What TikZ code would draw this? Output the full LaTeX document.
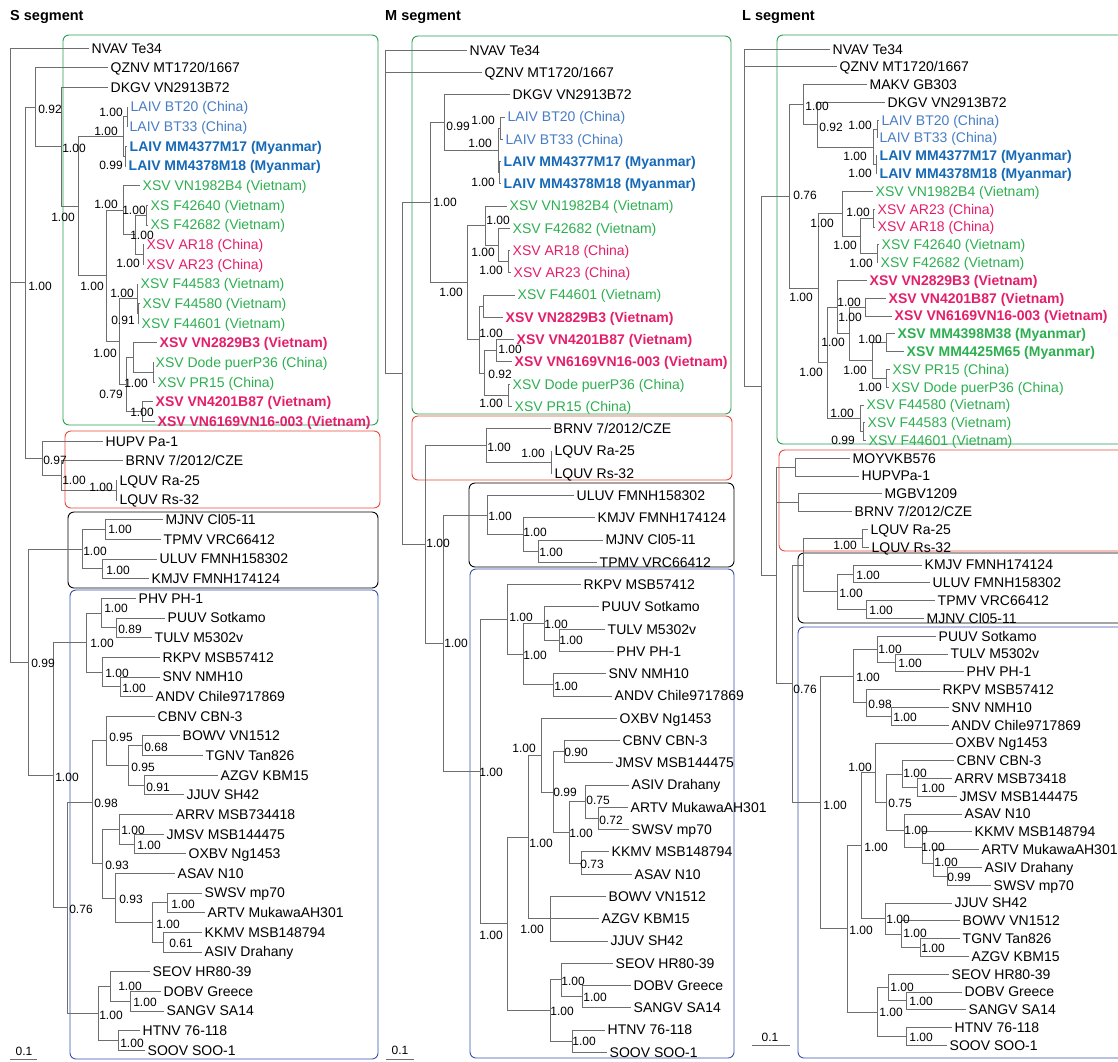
\documentclass[tikz,border=0pt]{standalone}
\usepackage{fontspec}
\setmainfont{Liberation Sans}

\definecolor{laivcn}{RGB}{72,125,195}
\definecolor{laivmm}{RGB}{22,105,182}
\definecolor{xsvgreen}{RGB}{45,175,80}
\definecolor{xsvpink}{RGB}{228,30,105}
\definecolor{boxgreen}{RGB}{40,160,80}
\definecolor{boxred}{RGB}{232,72,60}
\definecolor{boxblue}{RGB}{55,80,170}
\definecolor{branchgray}{RGB}{110,110,110}

\tikzset{
  leaf/.style={
    anchor = west,
    inner xsep = 2.5pt,
    inner ysep = 0pt,
    text height = 10pt,
    text depth = 0pt,
    font = \fontsize{14}{16}\selectfont
  },
  laiv/.style={leaf, text = laivcn},
  laivb/.style={leaf, text = laivmm, font = \bfseries\fontsize{14}{16}\selectfont},
  xsv/.style={leaf, text = xsvgreen},
  xsvb/.style={leaf, text = xsvgreen, font = \bfseries\fontsize{14}{16}\selectfont},
  xsvr/.style={leaf, text = xsvpink},
  xsvrb/.style={leaf, text = xsvpink, font = \bfseries\fontsize{14}{16}\selectfont},
}
\tikzset{
  branch/.style={
    draw = branchgray,
    line width = 0.6pt
  },
  bs/.style={
    inner sep = 0pt,
    font = \fontsize{12}{14}\selectfont
  },
  segtitle/.style={
    anchor = west,
    inner sep = 0pt,
    font = \bfseries\fontsize{14.5}{17}\selectfont
  },
  clade/.style={
    rounded corners = 6pt,
    line width = 0.9pt
  },
  grbox/.style={clade, draw = boxgreen},
  rdbox/.style={clade, draw = boxred},
  bkbox/.style={clade, draw = black},
  blbox/.style={clade, draw = boxblue},
  scalebar/.style={draw = branchgray, line width = 0.6pt}
}

\begin{document}
\begin{tikzpicture}[x=1pt,y=-1pt]
    \def\sy{48}
    \def\sdy{19.65}
    \def\my{50}
    \def\mdy{22.27}
    \def\ly{49}
    \def\ldy{17.79}
    \useasboundingbox (0,0) rectangle (1118,1061);
    \clip (0,0) rectangle (1118,1061);

    % clade boxes
    \draw[grbox] (63,35) rectangle (378,425);
    \draw[rdbox] (65,431) rectangle (380,508);
    \draw[bkbox] (68,512) rectangle (378,588);
    \draw[blbox] (70,590) rectangle (378,1059);
    \draw[grbox] (412,36) rectangle (731,414);
    \draw[rdbox] (412,416) rectangle (732,480);
    \draw[bkbox] (469,483) rectangle (734,567);
    \draw[blbox] (470,569) rectangle (734,1058);
    \draw[grbox] (777,35) rectangle (1140,444);
    \draw[rdbox] (779,450) rectangle (1140,551);
    \draw[bkbox] (798,553) rectangle (1140,623);
    \draw[blbox] (798,627) rectangle (1140,1058);

    \node[segtitle] (stitle) at (10,17) {S segment};
    \node[segtitle] (mtitle) at (385,17) {M segment};
    \node[segtitle] (ltitle) at (742,17) {L segment};

    % S segment
    \foreach \n/\px/\rw/\st/\txt in {
        sNV/89/0/leaf/{NVAV Te34}, sQZ/108/1/leaf/{QZNV MT1720/1667}, sDK/108/2/leaf/{DKGV VN2913B72},
        sBT20/128/3/laiv/{LAIV BT20 (China)}, sBT33/127/4/laiv/{LAIV BT33 (China)},
        sM17/127/5/laivb/{LAIV MM4377M17 (Myanmar)}, sM18/126/6/laivb/{LAIV MM4378M18 (Myanmar)},
        sVN19/140/7/xsv/{XSV VN1982B4 (Vietnam)}, sF40/148/8/xsv/{XS F42640 (Vietnam)}, sF82/148/9/xsv/{XS F42682 (Vietnam)},
        sA18/144/10/xsvr/{XSV AR18 (China)}, sA23/144/11/xsvr/{XSV AR23 (China)},
        sF83/138/12/xsv/{XSV F44583 (Vietnam)}, sF80/140/13/xsv/{XSV F44580 (Vietnam)}, sF01/139/14/xsv/{XSV F44601 (Vietnam)},
        sV28/157/15/xsvrb/{XSV VN2829B3 (Vietnam)}, sDO/153/16/xsv/{XSV Dode puerP36 (China)}, sPR/155/17/xsv/{XSV PR15 (China)},
        sV42/153/18/xsvrb/{XSV VN4201B87 (Vietnam)}, sV61/155/19/xsvrb/{XSV VN6169VN16-003 (Vietnam)},
        sHU/103/20/leaf/{HUPV Pa-1}, sBR/123/21/leaf/{BRNV 7/2012/CZE}, sLR/117/22/leaf/{LQUV Ra-25}, sLS/117/23/leaf/{LQUV Rs-32},
        sMJ/163/24/leaf/{MJNV Cl05-11}, sTP/161/25/leaf/{TPMV VRC66412}, sUL/157/26/leaf/{ULUV FMNH158302}, sKM/149/27/leaf/{KMJV FMNH174124},
        sPH/136/28/leaf/{PHV PH-1}, sPU/165/29/leaf/{PUUV Sotkamo}, sTU/152/30/leaf/{TULV M5302v},
        sRK/160/31/leaf/{RKPV MSB57412}, sSN/160/32/leaf/{SNV NMH10}, sAN/153/33/leaf/{ANDV Chile9717869},
        sCB/155/34/leaf/{CBNV CBN-3}, sBO/180/35/leaf/{BOWV VN1512}, sTG/203/36/leaf/{TGNV Tan826}, sAZ/218/37/leaf/{AZGV KBM15}, sJJ/184/38/leaf/{JJUV SH42},
        sAR/173/39/leaf/{ARRV MSB734418}, sJM/164/40/leaf/{JMSV MSB144475}, sOX/186/41/leaf/{OXBV Ng1453},
        sAS/175/42/leaf/{ASAV N10}, sSW/202/43/leaf/{SWSV mp70}, sAT/205/44/leaf/{ARTV MukawaAH301}, sKK/202/45/leaf/{KKMV MSB148794}, sAI/202/46/leaf/{ASIV Drahany},
        sSE/150/47/leaf/{SEOV HR80-39}, sDB/161/48/leaf/{DOBV Greece}, sSG/164/49/leaf/{SANGV SA14}, sHT/140/50/leaf/{HTNV 76-118}, sSO/145/51/leaf/{SOOV SOO-1}}{
        \node[\st] (\n) at (\px,{\sy+\sdy*\rw}) {\txt};
    }
    \foreach \n/\px/\rw in {
        sxR/10/0, sxA/25/11.94, sxQZ/35/3.01, sxDK/61/5.02, sxLX/78/8.05, sxLA/123/4.5, sxBT/127/3.5, sxMM/125/5.5,
        sxXS/106/11.59, sxX1/123/8.25, sxX2/135/9.5, sxF4/146/8.5, sxAR/143/10.5, sxX3/119/14.94, sxF44/137/12.75, sxF4b/138/13.5,
        sxX4/126/17.13, sxV28/133/15.75, sxDP/153/16.5, sxV42/142/18.5, sxHU/42/20.88, sxBR/61/21.75, sxLQ/116/22.5,
        sxC/28/31.25, sxBK/82/25.5, sxMT/105/24.5, sxUK/102/26.5, sxBL/53/37, sxPU/86/30.25, sxPH/101/28.75, sxPT/116/29.5,
        sxRK/102/31.75, sxSA/120/32.5, sxOS/67/43.75, sxOW/92/38.38, sxCB/106/35.25, sxBT2/128/36.5, sxBO/142/35.5, sxAZ/144/37.5,
        sxAA/102/41.5, sxAR2/119/39.75, sxJO/134/40.5, sxAS/115/43.25, sxSK/152/44.5, sxSW/167/43.5, sxKK/163/45.5,
        sxSH/98/49.13, sxSE/110/47.75, sxDS/130/48.5, sxHT/118/50.5}{
        \coordinate (\n) at (\px,{\sy+\sdy*\rw});
    }
    \foreach \p/\c in {
        sxR/sNV, sxR/sxA, sxR/sxC, sxA/sxQZ, sxA/sxHU, sxQZ/sQZ, sxQZ/sxDK, sxDK/sDK, sxDK/sxLX,
        sxLX/sxLA, sxLX/sxXS, sxLA/sxBT, sxLA/sxMM, sxBT/sBT20, sxBT/sBT33, sxMM/sM17, sxMM/sM18,
        sxXS/sxX1, sxXS/sxX3, sxX1/sVN19, sxX1/sxX2, sxX2/sxF4, sxX2/sxAR, sxF4/sF40, sxF4/sF82, sxAR/sA18, sxAR/sA23,
        sxX3/sxF44, sxX3/sxX4, sxF44/sF83, sxF44/sxF4b, sxF4b/sF80, sxF4b/sF01,
        sxX4/sxV28, sxX4/sxV42, sxV28/sV28, sxV28/sxDP, sxDP/sDO, sxDP/sPR, sxV42/sV42, sxV42/sV61,
        sxHU/sHU, sxHU/sxBR, sxBR/sBR, sxBR/sxLQ, sxLQ/sLR, sxLQ/sLS,
        sxC/sxBK, sxC/sxBL, sxBK/sxMT, sxBK/sxUK, sxMT/sMJ, sxMT/sTP, sxUK/sUL, sxUK/sKM,
        sxBL/sxPU, sxBL/sxOS, sxPU/sxPH, sxPU/sxRK, sxPH/sPH, sxPH/sxPT, sxPT/sPU, sxPT/sTU,
        sxRK/sRK, sxRK/sxSA, sxSA/sSN, sxSA/sAN, sxOS/sxOW, sxOS/sxSH, sxOW/sxCB, sxOW/sxAA,
        sxCB/sCB, sxCB/sxBT2, sxBT2/sxBO, sxBT2/sxAZ, sxBO/sBO, sxBO/sTG, sxAZ/sAZ, sxAZ/sJJ,
        sxAA/sxAR2, sxAA/sxAS, sxAR2/sAR, sxAR2/sxJO, sxJO/sJM, sxJO/sOX, sxAS/sAS, sxAS/sxSK,
        sxSK/sxSW, sxSK/sxKK, sxSW/sSW, sxSW/sAT, sxKK/sKK, sxKK/sAI,
        sxSH/sxSE, sxSH/sxHT, sxSE/sSE, sxSE/sxDS, sxDS/sDB, sxDS/sSG, sxHT/sHT, sxHT/sSO}{
        \draw[branch] (\p) |- (\c);
    }
    \foreach \n/\bx/\by/\v in {
        sbQZ/50/109/0.92, sbDK/74/148/1.00, sbLX/63/217/1.00, sbBT/111/112/1.00, sbLA/106/131/1.00, sbMM/111/165/0.99,
        sbX1/106/204/1.00, sbF4/134/210/1.00, sbX2/142/235/1.00, sbAR/128/263/1.00, sbXS/92/286/1.00, sbF44/122/293/1.00,
        sbF4b/123/320/0.91, sbX3/105/353/1.00, sbDP/136/383/1.00, sbX4/111/394/0.79, sbV42/142/412/1.00, sbA/40/286/1.00,
        sbHU/55/460/0.97, sbBR/74/480/1.00, sbLQ/101/487/1.00, sbMT/120/529/1.00, sbBK/95/551/1.00, sbUK/118/570/1.00,
        sbC/43/663/0.99, sbPH/116/608/1.00, sbPT/130/629/0.89, sbPU/102/643/1.00, sbRK/117/673/1.00, sbSA/134/688/1.00,
        sbCB/121/737/0.95, sbBO/156/747/0.68, sbBT2/143/767/0.95, sbBL/67/777/1.00, sbAZ/158/787/0.91, sbOW/106/803/0.98,
        sbAR2/133/830/1.00, sbJO/149/845/1.00, sbAA/117/865/0.93, sbAS/131/899/0.93, sbSW/183/904/1.00, sbSK/168/924/1.00,
        sbKK/181/943/0.61, sbOS/81/909/0.76, sbSE/130/986/1.00, sbDS/145/1002/1.00, sbSH/111/1015/1.00, sbHT/132/1043/1.00}{
        \node[bs] (\n) at (\bx,\by) {\v};
    }
    \coordinate (ssa) at (10,1059.5);
    \coordinate (ssb) at (37,1059.5);
    \draw[scalebar] (ssa) -- (ssb);
    \node[bs] (ssl) at (24,1051) {0.1};

    % M segment
    \foreach \n/\px/\rw/\st/\txt in {
        mNV/467/0/leaf/{NVAV Te34}, mQZ/482/1/leaf/{QZNV MT1720/1667}, mDK/510/2/leaf/{DKGV VN2913B72},
        mBT20/505/3/laiv/{LAIV BT20 (China)}, mBT33/503/4/laiv/{LAIV BT33 (China)},
        mM17/501/5/laivb/{LAIV MM4377M17 (Myanmar)}, mM18/501/6/laivb/{LAIV MM4378M18 (Myanmar)},
        mVN19/507/7/xsv/{XSV VN1982B4 (Vietnam)}, mF82/510/8/xsv/{XSV F42682 (Vietnam)},
        mA18/510/9/xsvr/{XSV AR18 (China)}, mA23/511/10/xsvr/{XSV AR23 (China)},
        mF01/515/11/xsv/{XSV F44601 (Vietnam)}, mV28/503/12/xsvrb/{XSV VN2829B3 (Vietnam)},
        mV42/514/13/xsvrb/{XSV VN4201B87 (Vietnam)}, mV61/512/14/xsvrb/{XSV VN6169VN16-003 (Vietnam)},
        mDO/510/15/xsv/{XSV Dode puerP36 (China)}, mPR/512/16/xsv/{XSV PR15 (China)},
        mBR/551/17/leaf/{BRNV 7/2012/CZE}, mLR/552/18/leaf/{LQUV Ra-25}, mLS/552/19/leaf/{LQUV Rs-32},
        mUL/574/20/leaf/{ULUV FMNH158302}, mKM/595/21/leaf/{KMJV FMNH174124}, mMJ/603/22/leaf/{MJNV Cl05-11}, mTP/597/23/leaf/{TPMV VRC66412},
        mRK/581/24/leaf/{RKPV MSB57412}, mPU/599/25/leaf/{PUUV Sotkamo}, mTU/605/26/leaf/{TULV M5302v}, mPH/614/27/leaf/{PHV PH-1},
        mSN/606/28/leaf/{SNV NMH10}, mAN/612/29/leaf/{ANDV Chile9717869}, mOX/617/30/leaf/{OXBV Ng1453},
        mCB/620/31/leaf/{CBNV CBN-3}, mJM/613/32/leaf/{JMSV MSB144475}, mAI/629/33/leaf/{ASIV Drahany},
        mAT/628/34/leaf/{ARTV MukawaAH301}, mSW/629/35/leaf/{SWSV mp70}, mKK/609/36/leaf/{KKMV MSB148794}, mAS/632/37/leaf/{ASAV N10},
        mBO/606/38/leaf/{BOWV VN1512}, mAZ/599/39/leaf/{AZGV KBM15}, mJJ/608/40/leaf/{JJUV SH42},
        mSE/613/41/leaf/{SEOV HR80-39}, mDB/631/42/leaf/{DOBV Greece}, mSG/631/43/leaf/{SANGV SA14},
        mHT/605/44/leaf/{HTNV 76-118}, mSO/607/45/leaf/{SOOV SOO-1}}{
        \node[\st] (\n) at (\px,{\my+\mdy*\rw}) {\txt};
    }
    \foreach \n/\px/\rw in {
        mxR/385/0, mxIN/402/14.52, mxGR/430/6.84, mxDK/444/3.25, mxLA/498/4.5, mxBT/500/3.5, mxMM/499/5.5,
        mxXS/467/10.44, mxVN/485/7.88, mxFA/498/8.75, mxAR/508/9.5, mxX3/479/13, mxF6/483/11.5, mxV4D/484/14.5,
        mxV4/496/13.5, mxDP/508/15.5, mxRB/425/22.19, mxRD/486/17.75, mxLQ/551/18.5, mxBB/443/26.63,
        mxBK/487/20.88, mxKM/523/21.75, mxMT/538/22.5, mxBL/480/32.39, mxRK/507/25.56, mxPS/523/27.13,
        mxPU/544/25.75, mxTP/559/26.5, mxSA/553/28.5, mxOS/507/39.23, mxOB/528/35.33, mxOX/541/31.66,
        mxCA/553/33.31, mxCJ/564/31.5, mxAK/569/35.13, mxAI/585/33.75, mxAS/598/34.5, mxKA/581/36.5,
        mxBJ/550/39, mxSH/550/43.13, mxSE/561/41.75, mxDS/582/42.5, mxHT/572/44.5}{
        \coordinate (\n) at (\px,{\my+\mdy*\rw});
    }
    \foreach \p/\c in {
        mxR/mNV, mxR/mQZ, mxR/mxIN, mxIN/mxGR, mxIN/mxRB, mxGR/mxDK, mxGR/mxXS, mxDK/mDK, mxDK/mxLA,
        mxLA/mxBT, mxLA/mxMM, mxBT/mBT20, mxBT/mBT33, mxMM/mM17, mxMM/mM18,
        mxXS/mxVN, mxXS/mxX3, mxVN/mVN19, mxVN/mxFA, mxFA/mF82, mxFA/mxAR, mxAR/mA18, mxAR/mA23,
        mxX3/mxF6, mxX3/mxV4D, mxF6/mF01, mxF6/mV28, mxV4D/mxV4, mxV4D/mxDP, mxV4/mV42, mxV4/mV61, mxDP/mDO, mxDP/mPR,
        mxRB/mxRD, mxRB/mxBB, mxRD/mBR, mxRD/mxLQ, mxLQ/mLR, mxLQ/mLS,
        mxBB/mxBK, mxBB/mxBL, mxBK/mUL, mxBK/mxKM, mxKM/mKM, mxKM/mxMT, mxMT/mMJ, mxMT/mTP,
        mxBL/mxRK, mxBL/mxOS, mxRK/mRK, mxRK/mxPS, mxPS/mxPU, mxPS/mxSA, mxPU/mPU, mxPU/mxTP,
        mxTP/mTU, mxTP/mPH, mxSA/mSN, mxSA/mAN, mxOS/mxOB, mxOS/mxSH, mxOB/mxOX, mxOB/mxBJ,
        mxOX/mOX, mxOX/mxCA, mxCA/mxCJ, mxCA/mxAK, mxCJ/mCB, mxCJ/mJM,
        mxAK/mxAI, mxAK/mxKA, mxAI/mAI, mxAI/mxAS, mxAS/mAT, mxAS/mSW, mxKA/mKK, mxKA/mAS,
        mxBJ/mBO, mxBJ/mAZ, mxBJ/mJJ, mxSH/mxSE, mxSH/mxHT, mxSE/mSE, mxSE/mxDS, mxDS/mDB, mxDS/mSG, mxHT/mHT, mxHT/mSO}{
        \draw[branch] (\p) |- (\c);
    }
    \foreach \n/\bx/\by/\v in {
        mbDK/458/126/0.99, mbBT/483/120/1.00, mbLA/480/143/1.00, mbMM/483/182/1.00, mbGR/445/202/1.00, mbVN/498/220/1.00,
        mbFA/483/252/1.00, mbAR/491/270/1.00, mbXS/451/292/1.00, mbX3/491/333/1.00, mbV4/510/349/1.00, mbV4D/500/374/0.92,
        mbDP/491/403/1.00, mbRD/499/447/1.00, mbLQ/533/453/1.00, mbBK/500/516/1.00, mbKM/535/532/1.00, mbRB/438/543/1.00,
        mbMT/551/552/1.00, mbRK/521/617/1.00, mbPU/556/624/1.00, mbTP/571/640/1.00, mbBB/456/643/1.00, mbPS/535/655/1.00,
        mbSA/566/686/1.00, mbOX/524/748/1.00, mbCJ/576/752/0.90, mbBL/491/772/1.00, mbCA/565/792/0.99, mbAI/598/800/0.75,
        mbAS/611/820/0.72, mbAK/581/833/1.00, mbOB/541/843/1.00, mbKA/592/864/0.73, mbBJ/532/929/1.00, mbOS/491/935/1.00,
        mbSE/573/981/1.00, mbDS/595/997/1.00, mbSH/562/1011/1.00, mbHT/584/1041/1.00}{
        \node[bs] (\n) at (\bx,\by) {\v};
    }
    \coordinate (msa) at (386,1059.5);
    \coordinate (msb) at (414,1059.5);
    \draw[scalebar] (msa) -- (msb);
    \node[bs] (msl) at (400,1050) {0.1};

    % L segment
    \foreach \n/\px/\rw/\st/\txt in {
        lNV/830/0/leaf/{NVAV Te34}, lQZ/837/1/leaf/{QZNV MT1720/1667}, lMA/867/2/leaf/{MAKV GB303}, lDK/885/3/leaf/{DKGV VN2913B72},
        lBT20/879/4/laiv/{LAIV BT20 (China)}, lBT33/877/5/laiv/{LAIV BT33 (China)},
        lM17/877/6/laivb/{LAIV MM4377M17 (Myanmar)}, lM18/877/7/laivb/{LAIV MM4378M18 (Myanmar)},
        lVN19/873/8/xsv/{XSV VN1982B4 (Vietnam)}, lA23/875/9/xsvr/{XSV AR23 (China)}, lA18/875/10/xsvr/{XSV AR18 (China)},
        lF40/879/11/xsv/{XSV F42640 (Vietnam)}, lF82/878/12/xsv/{XSV F42682 (Vietnam)},
        lV28/867/13/xsvrb/{XSV VN2829B3 (Vietnam)}, lV42/886/14/xsvrb/{XSV VN4201B87 (Vietnam)}, lV61/892/15/xsvrb/{XSV VN6169VN16-003 (Vietnam)},
        lM38/895/16/xsvb/{XSV MM4398M38 (Myanmar)}, lM65/904/17/xsvb/{XSV MM4425M65 (Myanmar)},
        lPR/890/18/xsv/{XSV PR15 (China)}, lDO/889/19/xsv/{XSV Dode puerP36 (China)},
        lF80/864/20/xsv/{XSV F44580 (Vietnam)}, lF83/865/21/xsv/{XSV F44583 (Vietnam)}, lF01/866/22/xsv/{XSV F44601 (Vietnam)},
        lMO/850/23/leaf/{MOYVKB576}, lHU/859/24/leaf/{HUPVPa-1}, lMG/882/25/leaf/{MGBV1209}, lBR/852/26/leaf/{BRNV 7/2012/CZE},
        lLR/868/27/leaf/{LQUV Ra-25}, lLS/869/28/leaf/{LQUV Rs-32},
        lKM/922/29/leaf/{KMJV FMNH174124}, lUL/930/30/leaf/{ULUV FMNH158302}, lTP/935/31/leaf/{TPMV VRC66412}, lMJ/924/32/leaf/{MJNV Cl05-11},
        lPU/936/33/leaf/{PUUV Sotkamo}, lTU/948/34/leaf/{TULV M5302v}, lPH/964/35/leaf/{PHV PH-1},
        lRK/940/36/leaf/{RKPV MSB57412}, lSN/949/37/leaf/{SNV NMH10}, lAN/949/38/leaf/{ANDV Chile9717869},
        lOX/953/39/leaf/{OXBV Ng1453}, lCB/954/40/leaf/{CBNV CBN-3}, lAR/952/41/leaf/{ARRV MSB73418}, lJM/957/42/leaf/{JMSV MSB144475},
        lAS/962/43/leaf/{ASAV N10}, lKK/972/44/leaf/{KKMV MSB148794}, lAT/979/45/leaf/{ARTV MukawaAH301}, lAI/982/46/leaf/{ASIV Drahany},
        lSW/991/47/leaf/{SWSV mp70}, lJJ/952/48/leaf/{JJUV SH42}, lBO/960/49/leaf/{BOWV VN1512}, lTG/960/50/leaf/{TGNV Tan826},
        lAZ/969/51/leaf/{AZGV KBM15}, lSE/949/52/leaf/{SEOV HR80-39}, lDB/962/53/leaf/{DOBV Greece}, lSG/966/54/leaf/{SANGV SA14},
        lHT/952/55/leaf/{HTNV 76-118}, lSO/947/56/leaf/{SOOV SOO-1}}{
        \node[\st] (\n) at (\px,{\ly+\ldy*\rw}) {\txt};
    }
    \foreach \n/\px/\rw in {
        lxR/744/0, lxIN/761/18.94, lxGR/789/8.28, lxMA/803/3.13, lxDK/817/4.25, lxLA/873/5.5, lxBT/877/4.5, lxMM/876/6.5,
        lxXS/818/13.44, lxVN/842/9.25, lxAF/860/10.5, lxAR/873/9.5, lxF4/877/11.5, lxX3/827/17.63, lxV2/837/14.5,
        lxVM/849/16, lxV4/865/14.5, lxMP/872/17.5, lxMY/886/16.5, lxPD/886/18.5, lxF4b/860/20.75, lxF13/863/21.5,
        lxRD/776/29.59, lxMH/795/23.5, lxMB/798/25.5, lxLL/792/35.68, lxLB/803/29, lxLQ/862/27.5, lxBK/837/30.5,
        lxKU/853/29.5, lxTM/866/31.5, lxBL/820/42.35, lxPR/853/35.25, lxPU/877/33.75, lxTP/895/34.5, lxRK/866/36.75,
        lxSA/891/37.5, lxOS/847/49.45, lxOJ/861/44.77, lxOX/875/40.67, lxCN/886/42.34, lxCA/902/40.75, lxAJ/917/41.5,
        lxAN/904/43.94, lxKK/922/44.88, lxAT/933/45.75, lxAS/947/46.5, lxJJ/885/48.88, lxBO/901/49.75, lxTA/920/50.5,
        lxSH/877/54.13, lxSE/888/52.75, lxDS/906/53.5, lxHT/906/55.5}{
        \coordinate (\n) at (\px,{\ly+\ldy*\rw});
    }
    \foreach \p/\c in {
        lxR/lNV, lxR/lQZ, lxR/lxIN, lxIN/lxGR, lxIN/lxRD, lxGR/lxMA, lxGR/lxXS,
        lxMA/lMA, lxMA/lxDK, lxDK/lDK, lxDK/lxLA, lxLA/lxBT, lxLA/lxMM, lxBT/lBT20, lxBT/lBT33, lxMM/lM17, lxMM/lM18,
        lxXS/lxVN, lxXS/lxX3, lxVN/lVN19, lxVN/lxAF, lxAF/lxAR, lxAF/lxF4, lxAR/lA23, lxAR/lA18, lxF4/lF40, lxF4/lF82,
        lxX3/lxV2, lxX3/lxF4b, lxV2/lV28, lxV2/lxVM, lxVM/lxV4, lxVM/lxMP, lxV4/lV42, lxV4/lV61,
        lxMP/lxMY, lxMP/lxPD, lxMY/lM38, lxMY/lM65, lxPD/lPR, lxPD/lDO, lxF4b/lF80, lxF4b/lxF13, lxF13/lF83, lxF13/lF01,
        lxRD/lxMH, lxRD/lxMB, lxRD/lxLL, lxMH/lMO, lxMH/lHU, lxMB/lMG, lxMB/lBR,
        lxLL/lxLB, lxLL/lxBL, lxLB/lxLQ, lxLB/lxBK, lxLQ/lLR, lxLQ/lLS,
        lxBK/lxKU, lxBK/lxTM, lxKU/lKM, lxKU/lUL, lxTM/lTP, lxTM/lMJ,
        lxBL/lxPR, lxBL/lxOS, lxPR/lxPU, lxPR/lxRK, lxPU/lPU, lxPU/lxTP, lxTP/lTU, lxTP/lPH,
        lxRK/lRK, lxRK/lxSA, lxSA/lSN, lxSA/lAN, lxOS/lxOJ, lxOS/lxSH, lxOJ/lxOX, lxOJ/lxJJ,
        lxOX/lOX, lxOX/lxCN, lxCN/lxCA, lxCN/lxAN, lxCA/lCB, lxCA/lxAJ, lxAJ/lAR, lxAJ/lJM,
        lxAN/lAS, lxAN/lxKK, lxKK/lKK, lxKK/lxAT, lxAT/lAT, lxAT/lxAS, lxAS/lAI, lxAS/lSW,
        lxJJ/lJJ, lxJJ/lxBO, lxBO/lBO, lxBO/lxTA, lxTA/lTG, lxTA/lAZ,
        lxSH/lxSE, lxSH/lxHT, lxSE/lSE, lxSE/lxDS, lxDS/lDB, lxDS/lSG, lxHT/lHT, lxHT/lSO}{
        \draw[branch] (\p) |- (\c);
    }
    \foreach \n/\bx/\by/\v in {
        lbGR/805/195/0.76, lbMA/817/106/1.00, lbDK/831/127/0.92, lbBT/860/125/1.00, lbLA/855/156/1.00, lbMM/860/173/1.00,
        lbVN/822/223/1.00, lbAR/858/212/1.00, lbAF/845/245/1.00, lbF4/861/263/1.00, lbXS/801/297/1.00, lbV4/849/302/1.00,
        lbVM/850/317/1.00, lbV2/833/342/1.00, lbMY/870/339/1.00, lbMP/855/370/1.00, lbX3/811/372/1.00, lbPD/870/387/1.00,
        lbF4b/842/413/1.00, lbF13/843/440/0.99, lbLQ/845/545/1.00, lbKU/868/575/1.00, lbBK/851/593/1.00, lbTM/881/610/1.00,
        lbPU/890/649/1.00, lbTP/910/663/1.00, lbPR/868/677/1.00, lbLL/805/689/0.76, lbRK/880/704/0.98, lbSA/905/717/1.00,
        lbOX/860/767/1.00, lbCA/915/773/1.00, lbAJ/933/788/1.00, lbCN/900/803/0.75, lbBL/835/805/1.00, lbAN/916/830/1.00,
        lbOJ/876/847/1.00, lbKK/933/847/1.00, lbAT/946/862/1.00, lbAS/959/877/0.99, lbJJ/898/919/1.00, lbOS/861/930/1.00,
        lbBO/915/933/1.00, lbTA/933/948/1.00, lbSE/902/987/1.00, lbDS/921/1001/1.00, lbSH/891/1012/1.00, lbHT/921/1037/1.00}{
        \node[bs] (\n) at (\bx,\by) {\v};
    }
    \coordinate (lsa) at (752,1045);
    \coordinate (lsb) at (790,1045);
    \draw[scalebar] (lsa) -- (lsb);
    \node[bs] (lsl) at (770,1037) {0.1};
\end{tikzpicture}
\end{document}
